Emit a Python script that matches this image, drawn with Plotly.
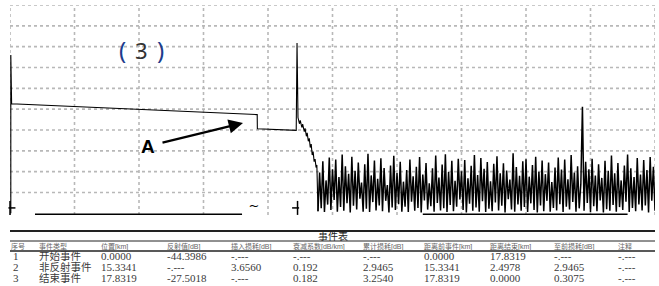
import numpy as np
import plotly.graph_objects as go

W, H = 659, 286

# ---------------- trace data (distance km, level dB) ----------------
trace_km = [0.05, 0.05, 0.10, 15.33, 15.34, 17.75, 17.80, 17.85,
            17.86, 17.95, 18.00, 18.10, 18.15, 18.25, 18.30, 18.38, 18.43,
            18.50, 18.56, 18.62, 18.68, 18.74, 18.80, 18.86, 18.92, 18.98,
            19.03]
trace_db = [0.0, 38.0, 26.3, 23.7, 20.3, 19.9, 40.9, 23.5,
            23.0, 21.5, 22.3, 20.6, 21.4, 19.6, 20.4, 18.5, 19.3,
            17.3, 18.0, 15.8, 16.6, 14.0, 14.8, 12.4, 13.0, 11.0,
            11.6]

noise_start_km = 19.1
noise_step_km = 0.1
noise_db = [
    0.5, 9.8, 1.2, 12.5, 0.3, 7.9, 2.1, 13.4, 0.8, 10.6,
    3.2, 12.9, 0.4, 8.7, 1.5, 14.1, 0.6, 11.3, 2.4, 9.5,
    0.2, 13.6, 1.8, 10.2, 0.9, 12.2, 3.5, 7.4, 0.4, 11.8,
    1.1, 14.3, 0.3, 9.1, 2.7, 12.7, 0.7, 8.3, 1.9, 13.2,
    0.5, 10.9, 3.0, 6.8, 0.2, 11.5, 1.4, 13.8, 0.8, 9.7,
    2.2, 12.4, 0.4, 7.6, 1.6, 10.4, 0.3, 12.9, 2.8, 8.9,
    0.6, 11.2, 1.3, 13.5, 0.2, 9.3, 3.1, 12.1, 0.9, 7.2,
    1.7, 10.8, 0.4, 13.9, 2.5, 8.6, 0.7, 11.7, 1.2, 14.2,
    0.3, 9.9, 2.0, 12.6, 0.5, 7.8, 1.6, 13.1, 3.3, 10.1,
    0.8, 12.8, 0.2, 8.4, 2.3, 11.4, 0.6, 14.0, 1.4, 9.2,
    0.4, 13.3, 2.9, 10.7, 0.3, 12.3, 1.1, 7.7, 0.5, 11.9,
    2.6, 13.7, 0.7, 9.6, 1.8, 12.0, 0.2, 10.3, 3.4, 8.1,
    0.9, 14.4, 0.4, 11.1, 2.1, 9.0, 0.6, 12.5, 1.5, 13.0,
    0.3, 8.8, 2.4, 11.6, 0.8, 13.6, 0.2, 10.0, 1.9, 12.7,
    0.5, 9.4, 3.0, 12.2, 0.4, 7.5, 1.3, 11.0, 0.7, 13.4,
    2.2, 10.5, 0.3, 12.9, 1.6, 8.2, 0.9, 14.0, 2.7, 9.8,
    0.4, 11.3, 1.2, 7.0, 25.6, 0.6, 12.4, 2.5, 10.6, 0.3,
    13.1, 1.7, 9.1, 0.5, 11.8, 3.1, 8.5, 0.2, 12.6, 1.0,
    10.2, 0.6, 13.9, 2.0, 9.6, 0.4, 12.1, 1.5, 7.9, 0.8,
    11.5, 2.8, 14.1, 0.3, 10.8, 1.3, 8.7, 0.5, 13.3, 2.1,
    9.3, 0.7, 12.8, 1.9, 10.4, 0.2, 13.5, 3.0, 11.2, 0.6,
]

baseline_km = [1.55, 14.39, None, 25.6, 38.3]

# grid positions (km / dB)
grid_km = [0, 4, 8, 12, 16, 20, 24, 28, 32, 36, 40]
grid_db = [5, 10, 15, 20, 25, 30, 35, 40, 45, 50]

# ---------------- event table ----------------
table_title = "事件表"
table_headers = ["序号", "事件类型", "位置[km]", "反射值[dB]", "插入损耗[dB]",
                 "衰减系数[dB/km]", "累计损耗[dB]", "距离前事件[km]",
                 "距离结束[km]", "至前损耗[dB]", "注释"]
event_no = ["1", "2", "3"]
event_type = ["开始事件", "非反射事件", "结束事件"]
event_pos_km = [0.0000, 15.3341, 17.8319]
event_reflect = ["-44.3986", "-.---", "-27.5018"]
event_insert = ["-.---", "3.6560", "-.---"]
event_atten = ["-.---", "0.192", "0.182"]
event_cumloss = ["-.---", "2.9465", "3.2540"]
event_from_prev = ["0.0000", "15.3341", "17.8319"]
event_to_end = ["17.8319", "2.4978", "0.0000"]
event_prev_loss = ["-.---", "2.9465", "0.3075"]
event_note = ["-.---", "-.---", "-.---"]

# ---------------- figure ----------------
def px(x):
    return x / W

def py(y):
    return 1 - y / H

X_RANGE = [0, 40]
Y_RANGE = [-0.4, 50]

noise_km = noise_start_km + noise_step_km * np.arange(len(noise_db))

fig = go.Figure()

# dotted grid drawn as shapes in data coordinates (below traces)
shapes = []
GRID = dict(color="#b8b8b8", width=1.6, dash="dot")
for gx in grid_km:
    shapes.append(dict(type="line", xref="x", yref="y", x0=gx, x1=gx,
                       y0=Y_RANGE[0], y1=Y_RANGE[1], line=GRID, layer="below"))
for gy in grid_db:
    shapes.append(dict(type="line", xref="x", yref="y", x0=X_RANGE[0], x1=X_RANGE[1],
                       y0=gy, y1=gy, line=GRID, layer="below"))

fig.add_trace(go.Scatter(x=trace_km + [noise_km[0]], y=trace_db + [noise_db[0]],
                         mode="lines", line=dict(color="black", width=1.1),
                         hoverinfo="skip", showlegend=False))
fig.add_trace(go.Scatter(x=noise_km, y=noise_db, mode="lines",
                         line=dict(color="black", width=1.5),
                         hoverinfo="skip", showlegend=False))
fig.add_trace(go.Scatter(x=baseline_km, y=[-0.3] * len(baseline_km),
                         mode="lines", line=dict(color="black", width=2),
                         hoverinfo="skip", showlegend=False, cliponaxis=False))
# event markers
fig.add_trace(go.Scatter(x=[event_pos_km[0], event_pos_km[2]], y=[1.3, 1.3],
                         mode="markers",
                         marker=dict(symbol="line-ns", size=10,
                                     line=dict(color="black", width=1.5)),
                         hoverinfo="skip", showlegend=False, cliponaxis=False))
fig.add_trace(go.Scatter(x=[event_pos_km[0] + 0.12, event_pos_km[2] - 0.12], y=[1.3, 1.3],
                         mode="markers",
                         marker=dict(symbol="line-ew", size=5,
                                     line=dict(color="black", width=1.5)),
                         hoverinfo="skip", showlegend=False, cliponaxis=False))
fig.add_trace(go.Scatter(x=[event_pos_km[1] - 0.2], y=[1.6], mode="text",
                         text=["~"], textfont=dict(size=13, color="black",
                                                   family="DejaVu Sans"),
                         hoverinfo="skip", showlegend=False, cliponaxis=False))

noaxis = dict(showgrid=False, zeroline=False, showticklabels=False, ticks="",
              showline=False)

fig.update_layout(
    width=W, height=H, margin=dict(l=0, r=0, t=0, b=0),
    paper_bgcolor="white", plot_bgcolor="white",
    xaxis=dict(range=X_RANGE, domain=[px(10), px(655)], **noaxis),
    yaxis=dict(range=Y_RANGE, domain=[py(215), py(5)], **noaxis),
)

ann = []
# "( 3 )" label
for ch, cx, col, sz in [("(", 123, "#1d3c8c", 24), ("3", 141, "#333333", 22),
                        (")", 160, "#1d3c8c", 24)]:
    ann.append(dict(x=px(cx), y=py(50), xref="paper", yref="paper", text=ch,
                    showarrow=False, xanchor="center", yanchor="middle",
                    font=dict(size=sz, color=col, family="Noto Sans")))
# A label with arrow
ann.append(dict(x=px(148), y=py(146), xref="paper", yref="paper", text="<b>A</b>",
                showarrow=False, xanchor="center", yanchor="middle",
                font=dict(size=19, color="black", family="Liberation Sans")))
ann.append(dict(x=px(243), y=py(123), xref="paper", yref="paper", text="",
                showarrow=True, ax=-82, ay=20, arrowhead=2, arrowsize=1.3,
                arrowwidth=2.2, arrowcolor="black"))

# table
CJK_SERIF = "Liberation Serif, Noto Sans CJK SC"
CJK_SANS = "Liberation Sans, Noto Sans CJK SC"
col_x = [10, 38, 100, 166, 230, 292, 362, 423, 489, 553, 617]
ann.append(dict(x=px(333), y=py(236), xref="paper", yref="paper", text=table_title,
                showarrow=False, xanchor="center", yanchor="middle", borderpad=0,
                font=dict(size=10, color="#222222", family=CJK_SANS)))
for hx, htxt in zip(col_x, table_headers):
    ann.append(dict(x=px(hx), y=py(246.5), xref="paper", yref="paper", text=htxt,
                    showarrow=False, xanchor="left", yanchor="middle", borderpad=0,
                    font=dict(size=7, color="#666666", family=CJK_SANS)))
row_y = [256, 267, 278]
for i in range(3):
    vals = [event_no[i], event_type[i], f"{event_pos_km[i]:.4f}", event_reflect[i],
            event_insert[i], event_atten[i], event_cumloss[i], event_from_prev[i],
            event_to_end[i], event_prev_loss[i], event_note[i]]
    for j, (cx, v) in enumerate(zip(col_x, vals)):
        ann.append(dict(x=px(cx + (2 if j == 0 else 0)), y=py(row_y[i]), xref="paper",
                        yref="paper", text=v, showarrow=False, xanchor="left",
                        yanchor="middle", borderpad=0,
                        font=dict(size=10.5 if j == 1 else 11, color="#3a3a3a",
                                  family=CJK_SERIF)))
fig.update_layout(annotations=ann)

for yy, lw in [(231, 2), (241, 1), (251, 1.6)]:
    shapes.append(dict(type="line", xref="paper", yref="paper",
                       x0=px(10), x1=px(655), y0=py(yy), y1=py(yy),
                       line=dict(color="#222222", width=lw)))
fig.update_layout(shapes=shapes)

fig.write_html("out.html")
